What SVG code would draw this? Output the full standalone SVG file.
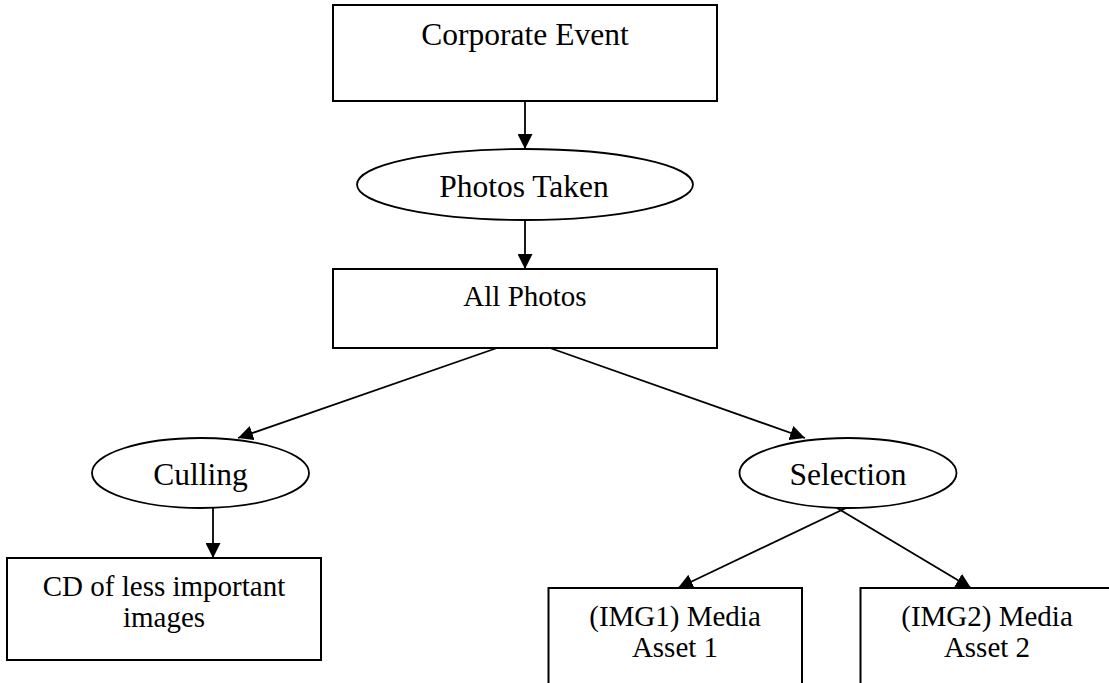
<svg xmlns="http://www.w3.org/2000/svg" width="1109" height="683" viewBox="0 0 1109 683">
  <style>
    .box { fill: #ffffff; stroke: #000000; stroke-width: 2; }
    .oval { fill: #ffffff; stroke: #000000; stroke-width: 1.8; }
    .lbl { font-family: "Liberation Serif", "Times New Roman", serif; fill: #000000; text-anchor: middle; }
    .big { font-size: 31.5px; }
    .small { font-size: 29px; }
    .edge { fill: none; stroke: #000000; stroke-width: 1.8; marker-end: url(#head); }
  </style>
  <defs>
    <marker id="head" markerUnits="userSpaceOnUse" markerWidth="15" markerHeight="15" viewBox="0 0 15 15" refX="15" refY="7.5" orient="auto">
      <path d="M0,0 L15,7.5 L0,15 z" fill="#000000"/>
    </marker>
  </defs>
  <rect width="1109" height="683" fill="#ffffff"/>

  <!-- connectors -->
  <g id="connectors">
    <line class="edge" x1="525" y1="101" x2="525" y2="149"/>
    <line class="edge" x1="525" y1="220" x2="525" y2="269"/>
    <line class="edge" x1="497" y1="348" x2="238" y2="438"/>
    <line class="edge" x1="550" y1="348" x2="805" y2="438"/>
    <line class="edge" x1="213" y1="508" x2="213" y2="558"/>
    <line class="edge" x1="846" y1="508" x2="678" y2="588"/>
    <line class="edge" x1="837" y1="508" x2="971" y2="588"/>
  </g>

  <g id="corporate-event">
    <rect class="box" x="333" y="5" width="384" height="96"/>
    <text class="lbl big" x="525" y="45">Corporate Event</text>
  </g>

  <g id="photos-taken">
    <ellipse class="oval" cx="525" cy="184.5" rx="168" ry="35.5"/>
    <text class="lbl big" x="524" y="197">Photos Taken</text>
  </g>

  <g id="all-photos">
    <rect class="box" x="333" y="269" width="384" height="79"/>
    <text class="lbl small" x="525" y="306">All Photos</text>
  </g>

  <g id="culling">
    <ellipse class="oval" cx="200.5" cy="473" rx="108.5" ry="35"/>
    <text class="lbl big" x="200.5" y="485">Culling</text>
  </g>

  <g id="selection">
    <ellipse class="oval" cx="848" cy="473" rx="108.5" ry="35"/>
    <text class="lbl big" x="848" y="485">Selection</text>
  </g>

  <g id="cd-less-important">
    <rect class="box" x="7" y="558" width="314" height="102"/>
    <text class="lbl small" x="164" y="596">CD of less important</text>
    <text class="lbl small" x="164" y="627">images</text>
  </g>

  <g id="media-asset-1">
    <path class="box" d="M548.5,684 V588 H802 V684"/>
    <text class="lbl small" x="675" y="626">(IMG1) Media</text>
    <text class="lbl small" x="675" y="657">Asset 1</text>
  </g>

  <g id="media-asset-2">
    <path class="box" d="M860.5,684 V588 H1114 V684"/>
    <text class="lbl small" x="987" y="626">(IMG2) Media</text>
    <text class="lbl small" x="987" y="657">Asset 2</text>
  </g>
</svg>
